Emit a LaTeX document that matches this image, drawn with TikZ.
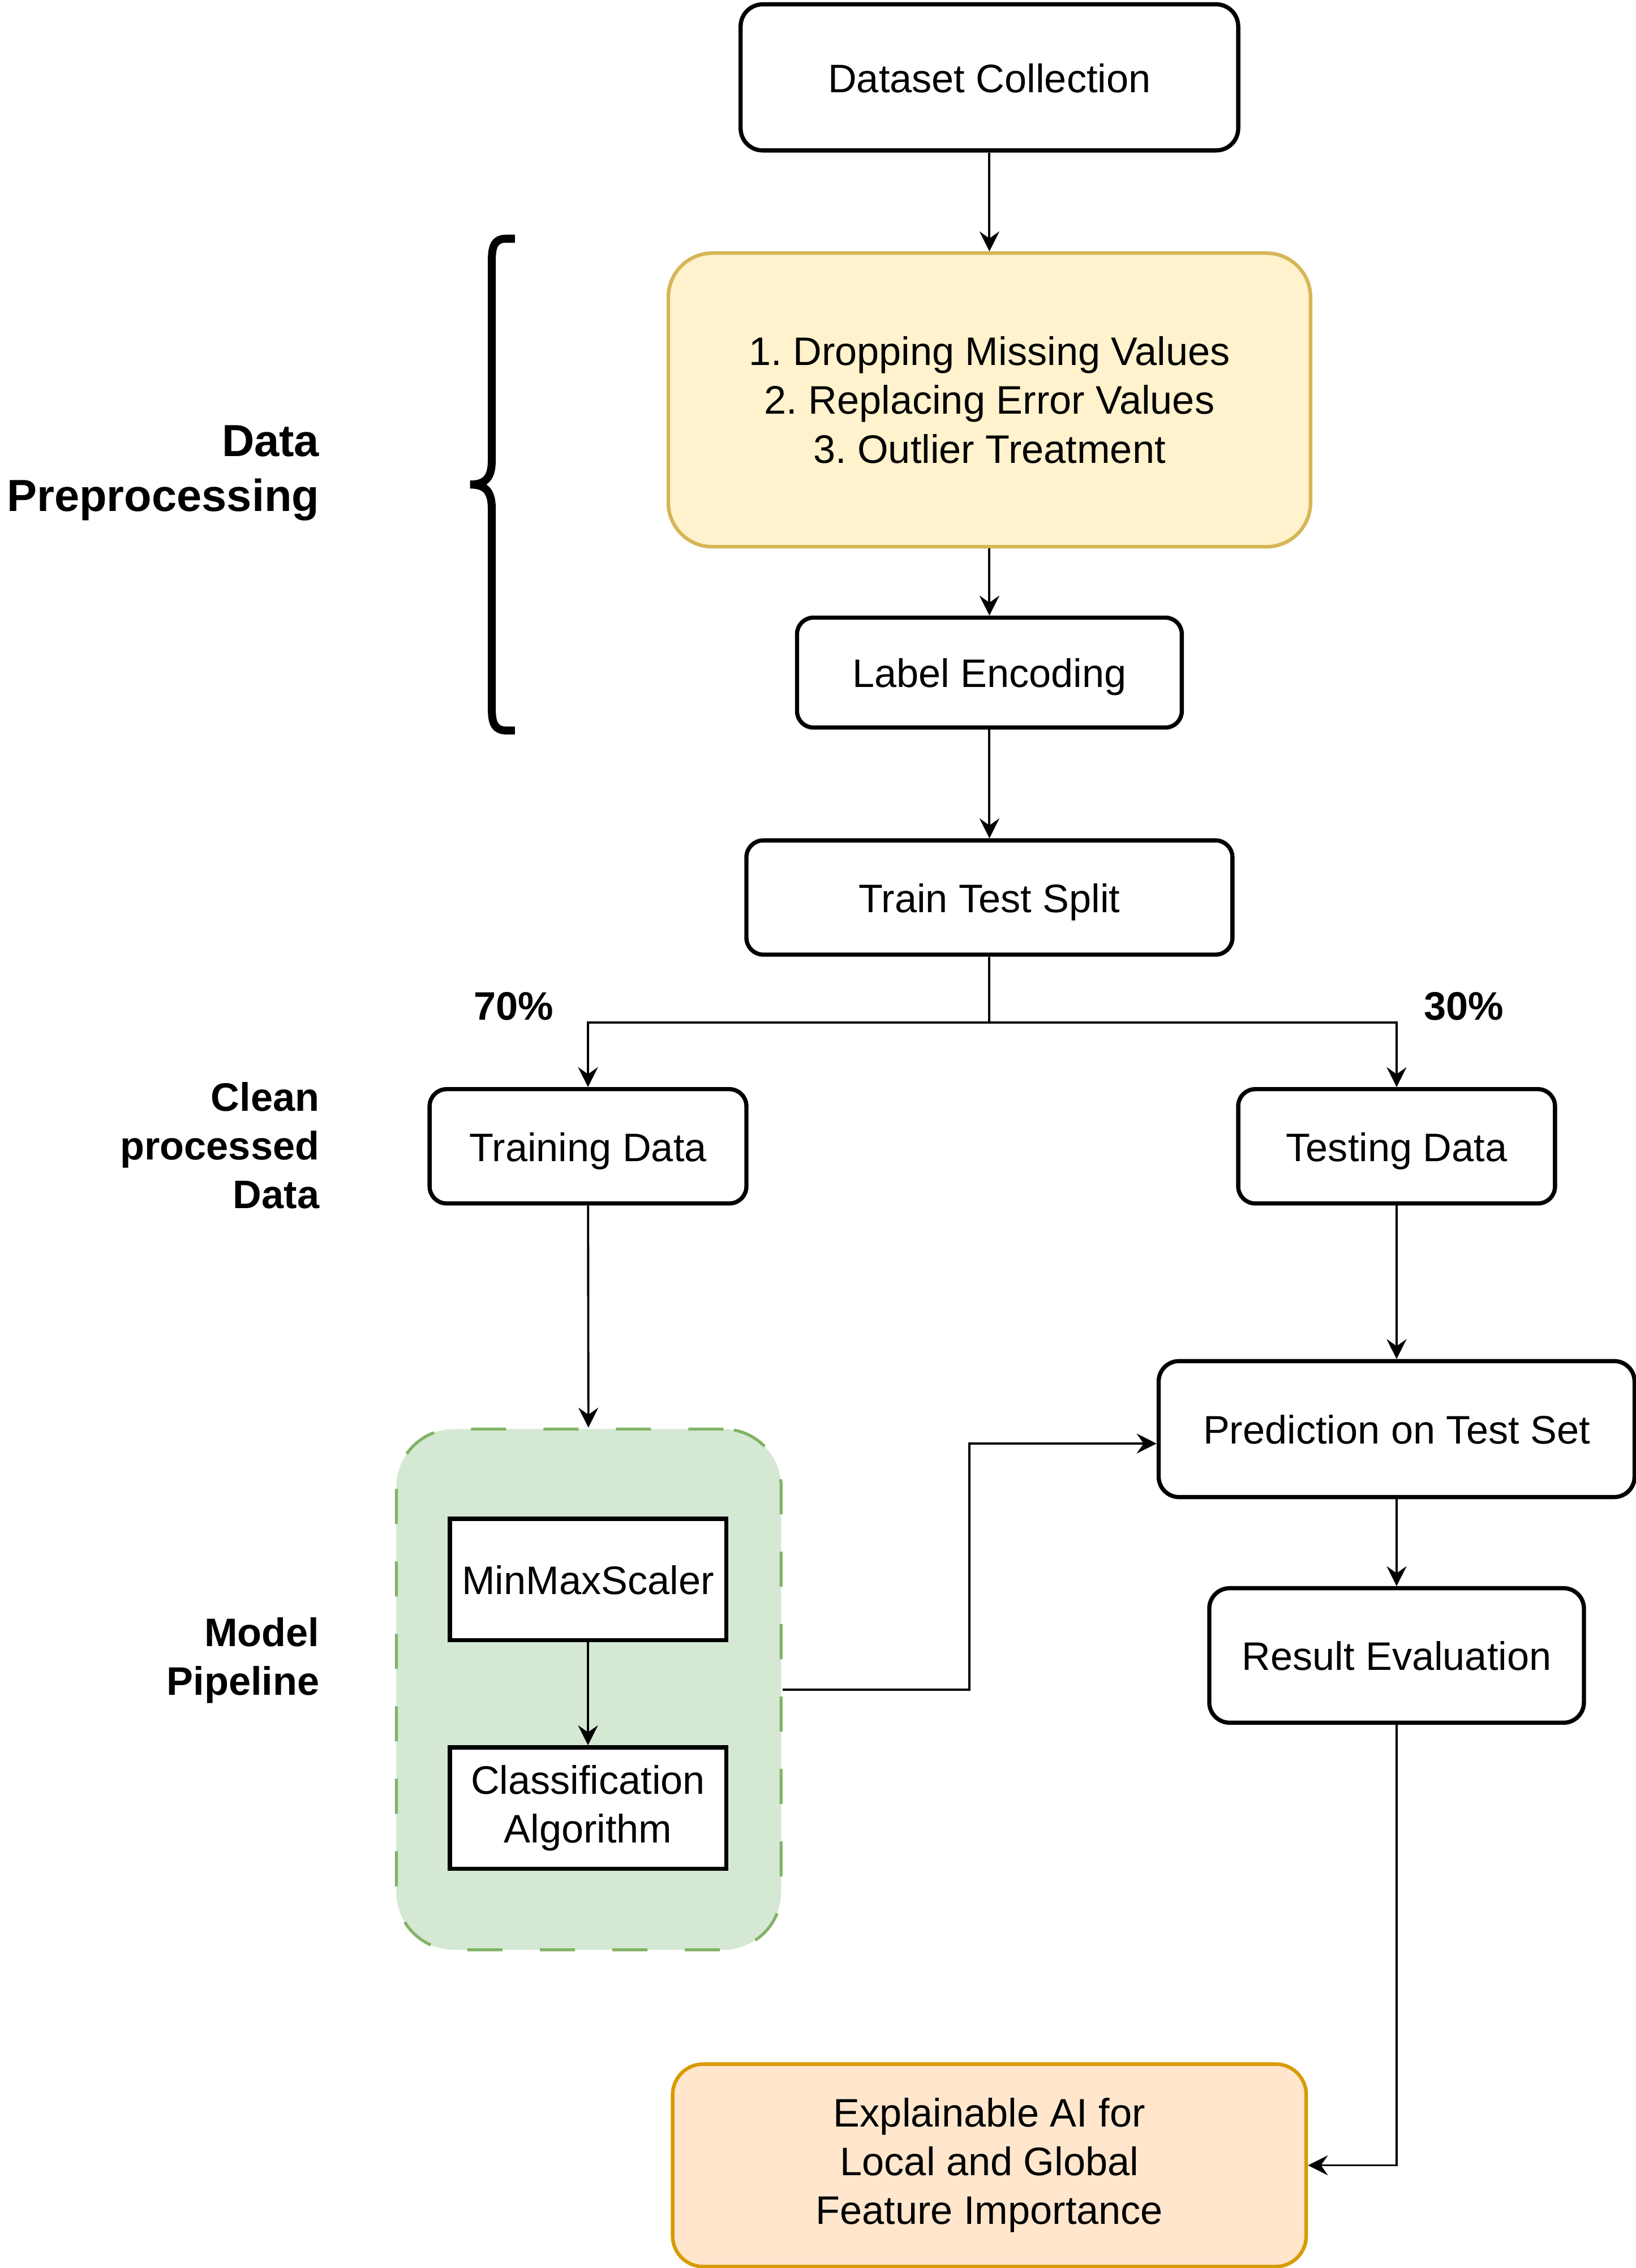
\documentclass[tikz,border=0pt]{standalone}
\usepackage{fontspec}
\setmainfont{Liberation Sans}
\frenchspacing
\definecolor{prepfill}{HTML}{FFF2CC}
\definecolor{prepedge}{HTML}{D6B656}
\definecolor{pipefill}{HTML}{D5E8D4}
\definecolor{pipeedge}{HTML}{82B366}
\definecolor{xaifill}{HTML}{FFE6CC}
\definecolor{xaiedge}{HTML}{D79B00}
\usepackage{tikz}
\usetikzlibrary{arrows.meta,positioning}

\begin{document}
\begin{tikzpicture}[x=0.02556cm, y=-0.02556cm,
    >={Stealth[length=10pt,width=10pt,inset=3.5pt]},
    every node/.style={font=\fontsize{20}{24.5}\selectfont, align=center},
    box/.style={draw, line width=2.1pt, rounded corners=#1, fill=white},
    oneline/.style={text height=15pt, text depth=0pt},
    sz/.style 2 args={minimum width=#1*0.02556cm, minimum height=#2*0.02556cm},
    conn/.style={->, line width=1.1pt},
    side/.style={font=\fontsize{20}{24.5}\selectfont\bfseries, align=right, anchor=east, inner sep=0pt}]
        \useasboundingbox (0,0) rectangle (1131,1568);

        % main column
        \node (data) [box=0.39cm, oneline, sz={344}{101}] at (684,53.5) {Dataset Collection};
        \node (prep) [box=0.78cm, sz={444}{203}, draw=prepedge, fill=prepfill, line width=1.8pt] at (684,276.5)
            {1. Dropping Missing Values\\2. Replacing Error Values\\3. Outlier Treatment};
        \node (enc) [box=0.29cm, oneline, sz={266}{76}] at (684,465) {Label Encoding};
        \node (split) [box=0.30cm, oneline, sz={336}{79}] at (684,620.5) {Train Test Split};

        % two branches
        \node (train) [box=0.30cm, oneline, sz={219}{79}] at (406.5,792.5) {Training Data};
        \node (test) [box=0.30cm, oneline, sz={219}{79}] at (965.5,792.5) {Testing Data};

        \node (pipe) [draw=pipeedge, fill=pipefill, line width=1.5pt, rounded corners=1.02cm,
            dash pattern=on 0.62cm off 0.66cm, sz={266}{360}] at (407,1168) {};
        \node (scaler) [draw, fill=white, line width=2.1pt, oneline, sz={191}{84}] at (406.5,1092) {MinMaxScaler};
        \node (clf) [draw, fill=white, line width=2.1pt, sz={191}{84}] at (406.5,1250) {Classification\\Algorithm};

        \node (pred) [box=0.36cm, oneline, sz={329}{94}] at (965.5,988) {Prediction on Test Set};
        \node (eval) [box=0.36cm, oneline, sz={259}{93}] at (965.5,1144.5) {Result Evaluation};
        \node (xai) [box=0.54cm, sz={438}{140}, draw=xaiedge, fill=xaifill, line width=1.8pt] at (684,1497)
            {Explainable AI for\\Local and Global\\Feature Importance};

        % side labels
        \node (lprep) [side, font=\fontsize{22.6}{27.6}\selectfont\bfseries] at (221,327) {Data\\Preprocessing};
        \node (lclean) [side] at (221,792) {Clean\\processed\\Data};
        \node (lmodel) [side] at (221,1148) {Model\\Pipeline};
        \node (ptrain) [oneline, font=\fontsize{20}{24.5}\selectfont\bfseries] at (355,695) {70\%};
        \node (ptest) [oneline, font=\fontsize{20}{24.5}\selectfont\bfseries] at (1012,695) {30\%};

        % brace
        \draw[line width=4pt] (356,165) -- (350,165) .. controls (342,165) and (340,170) .. (340,180)
            -- (340,318) .. controls (340,330) and (336,335) .. (325,335)
            .. controls (336,335) and (340,340) .. (340,352)
            -- (340,490) .. controls (340,500) and (342,505) .. (350,505) -- (356,505);

        % connectors
        \coordinate (fork) at (684,707);
        \coordinate (bend) at (670,998);
        \draw[conn] (data) -- (prep);
        \draw[conn] (prep) -- (enc);
        \draw[conn] (enc) -- (split);
        \draw[line width=1.1pt] (split) -- (fork);
        \draw[conn] (fork) -| (train);
        \draw[conn] (fork) -| (test);
        \draw[conn] (train) -- (pipe);
        \draw[conn] (scaler) -- (clf);
        \draw[conn] (test) -- (pred);
        \draw[conn] (pipe.east) -| (bend) -- (bend -| pred.west);
        \draw[conn] (pred) -- (eval);
        \draw[conn] (eval) |- (xai.east);
\end{tikzpicture}
\end{document}
